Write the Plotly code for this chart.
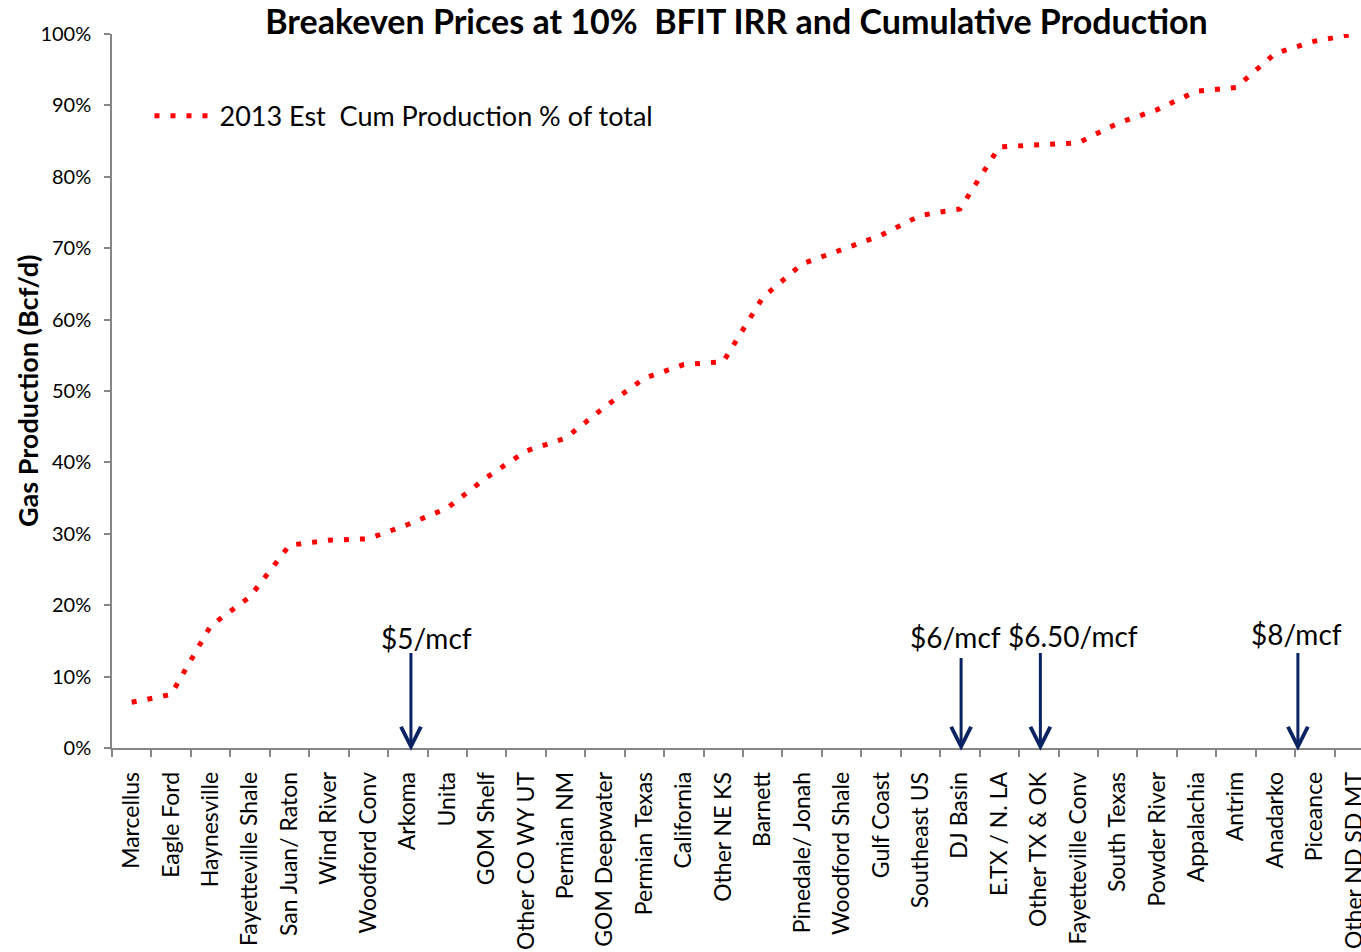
import plotly.graph_objects as go

categories = [
    "Marcellus", "Eagle Ford", "Haynesville", "Fayetteville Shale", "San Juan/ Raton",
    "Wind River", "Woodford Conv", "Arkoma", "Unita", "GOM Shelf", "Other CO WY UT",
    "Permian NM", "GOM Deepwater", "Permian Texas", "California", "Other NE KS",
    "Barnett", "Pinedale/ Jonah", "Woodford Shale", "Gulf Coast", "Southeast US",
    "DJ Basin", "E.TX / N. LA", "Other TX & OK", "Fayetteville Conv", "South Texas",
    "Powder River", "Appalachia", "Antrim", "Anadarko", "Piceance", "Other ND SD MT",
]
cum_pct = [
    6.4, 7.5, 17.1, 21.2, 28.4, 29.1, 29.3, 31.3, 33.6, 37.9, 41.6,
    43.4, 47.8, 51.8, 53.7, 54.1, 63.1, 67.8, 69.8, 71.8, 74.6,
    75.5, 84.2, 84.5, 84.75, 87.5, 89.4, 92.0, 92.5, 97.3, 99.0, 100.0,
]
series_name = "2013 Est\u00a0 Cum Production % of total"

price_labels = ["$5/mcf", "$6/mcf", "$6.50/mcf", "$8/mcf"]
arrow_pos = [7.08, 21.03, 23.04, 29.57]
label_pos = [7.47, 20.88, 23.86, 29.54]
arrow_top = [0.135, 0.128, 0.135, 0.135]
label_y = [0.154, 0.156, 0.157, 0.159]

FONT = "Lato, 'Open Sans', sans-serif"
AXIS_GRAY = "#868686"
NAVY = "#0A2363"

W, H = 1361, 952
L, T, B = 112, 34, 204

fig = go.Figure()
fig.add_trace(go.Scatter(
    x=categories,
    y=[v / 100 for v in cum_pct],
    mode="lines",
    name=series_name,
    line=dict(color="#FF0000", width=5, dash="5px,11px"),
))

for xp, yt in zip(arrow_pos, arrow_top):
    fig.add_annotation(
        x=xp, y=-0.004, ax=xp, ay=yt, xref="x", yref="y", axref="x", ayref="y",
        text="", showarrow=True, arrowhead=5, arrowsize=1.3, arrowwidth=3,
        arrowcolor=NAVY, standoff=0, startstandoff=0,
    )
for lbl, xp, yp in zip(price_labels, label_pos, label_y):
    fig.add_annotation(
        x=xp, y=yp, xref="x", yref="y", text=lbl, showarrow=False,
        xanchor="center", yanchor="middle",
        font=dict(family=FONT, size=28, color="#000000"),
    )

plot_w = W - L
fig.add_annotation(
    x=-85 / plot_w, y=0.5, xref="paper", yref="paper", text="<b>Gas Production (Bcf/d)</b>",
    textangle=-90, showarrow=False, xanchor="center", yanchor="middle",
    font=dict(family=FONT, size=27, color="#000000"),
)

fig.update_layout(
    width=W, height=H,
    margin=dict(l=L, r=0, t=T, b=B),
    paper_bgcolor="white", plot_bgcolor="white",
    title=dict(
        text="<b>Breakeven Prices at 10%\u00a0 BFIT IRR and Cumulative Production</b>",
        x=0.5, xref="paper", xanchor="center", y=1 - 22 / H, yref="container", yanchor="middle",
        font=dict(family=FONT, size=34, color="#000000"),
    ),
    showlegend=True,
    legend=dict(
        x=0.03, y=0.885, xanchor="left", yanchor="middle", bgcolor="rgba(0,0,0,0)",
        font=dict(family=FONT, size=27, color="#000000"), itemwidth=60,
    ),
    xaxis=dict(
        type="category", range=[-0.5, 31.17], showline=True, linecolor=AXIS_GRAY, linewidth=1.5,
        ticks="outside", tickson="boundaries", ticklen=7, tickcolor=AXIS_GRAY, tickwidth=1.5,
        tickangle=-90, tickfont=dict(family=FONT, size=23, color="#000000"),
        showgrid=False, zeroline=False, automargin=False, ticklabelstandoff=13,
    ),
    yaxis=dict(
        range=[0, 1], tickformat=".0%", dtick=0.1, showline=True, linecolor=AXIS_GRAY,
        linewidth=1.5, ticks="outside", ticklen=6, tickcolor=AXIS_GRAY, tickwidth=1.5,
        tickfont=dict(family=FONT, size=20, color="#000000"),
        showgrid=False, zeroline=False, automargin=False, ticklabelstandoff=9,
    ),
)

fig.write_html(
    "out.html",
    config={"displayModeBar": False},
    post_script="document.body.style.margin='0';document.body.style.overflow='hidden';",
)
